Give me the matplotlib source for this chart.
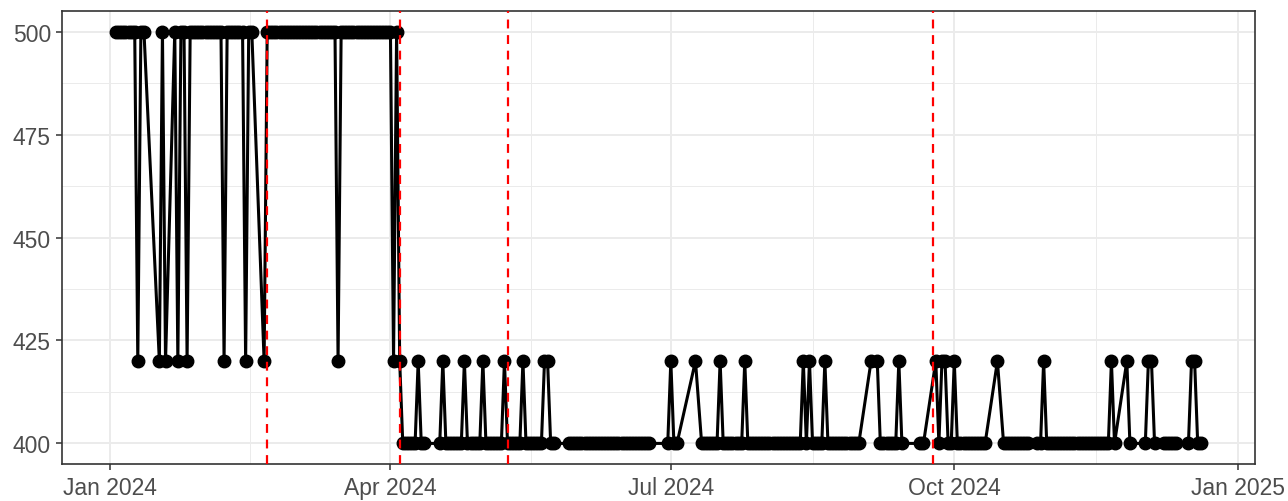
import matplotlib
matplotlib.use('Agg')
import matplotlib.pyplot as plt
import matplotlib.dates as mdates
from matplotlib.ticker import FixedLocator
import numpy as np
import pandas as pd

# day offset from 1 Jan 2024 for each reading, grouped by the reading's value
days_500 = [2, 3, 4, 5, 6, 7, 8, 10, 11, 17, 21, 23, 24, 26, 27, 28, 29, 30, 31,
            32, 33, 34, 35, 36, 38, 39, 40, 41, 42, 43, 45, 46, 51, 52, 53, 54, 55,
            56, 57, 58, 59, 60, 61, 62, 63, 64, 65, 66, 67, 68, 69, 70, 71, 72, 73,
            75, 76, 77, 78, 79, 80, 81, 82, 83, 84, 85, 86, 87, 88, 89, 90, 91, 93]
days_420 = [9, 16, 18, 22, 25, 37, 44, 50, 74, 92, 94, 100, 108, 115, 121, 128,
            134, 141, 142, 182, 190, 198, 206, 225, 227, 232, 247, 249, 256, 268,
            270, 271, 274, 288, 303, 325, 330, 337, 338, 351, 352]
days_400 = [95, 96, 97, 98, 99, 101, 102, 107, 109, 110, 111, 112, 113, 114, 116,
            117, 118, 119, 120, 122, 123, 124, 125, 126, 127, 129, 130, 131, 132,
            133, 135, 136, 137, 138, 139, 140, 143, 144, 149, 150, 151, 152, 153,
            154, 155, 156, 157, 158, 159, 160, 161, 162, 163, 164, 165, 166, 167,
            168, 169, 170, 171, 172, 173, 174, 175, 181, 183, 184, 192, 193, 194,
            195, 196, 197, 199, 200, 201, 202, 203, 204, 205, 207, 208, 209, 210,
            211, 212, 213, 214, 215, 216, 217, 218, 219, 220, 221, 222, 223, 224,
            226, 228, 229, 230, 231, 233, 234, 235, 236, 237, 238, 239, 240, 241,
            242, 243, 250, 251, 252, 253, 254, 255, 257, 263, 264, 269, 272, 273,
            275, 276, 277, 278, 279, 280, 281, 282, 283, 284, 290, 291, 292, 293,
            294, 295, 296, 297, 298, 301, 302, 304, 305, 306, 307, 308, 309, 310,
            311, 312, 313, 314, 315, 316, 317, 318, 319, 320, 321, 322, 323, 324,
            326, 331, 336, 339, 342, 343, 344, 345, 346, 350, 353, 354]

cutoffs = ['2024-02-21', '2024-04-04', '2024-05-09', '2024-09-24']
x_breaks = ['2024-01-01', '2024-04-01', '2024-07-01', '2024-10-01', '2025-01-01']
x_labels = ['Jan 2024', 'Apr 2024', 'Jul 2024', 'Oct 2024', 'Jan 2025']
y_breaks = [400, 425, 450, 475, 500]

df = pd.concat([
    pd.DataFrame({'day': days_500, 'value': 500}),
    pd.DataFrame({'day': days_420, 'value': 420}),
    pd.DataFrame({'day': days_400, 'value': 400}),
]).sort_values('day')
df['date'] = pd.Timestamp('2024-01-01') + pd.to_timedelta(df['day'], unit='D')

plt.rcParams['font.family'] = ['Liberation Sans', 'DejaVu Sans']

fig = plt.figure(figsize=(12.88, 5.02), dpi=100)
ax = fig.add_axes([62 / 1288, 1 - 465 / 502, (1255 - 62) / 1288, (465 - 12) / 502])

ax.plot(df['date'], df['value'], color='black', linewidth=2.2, zorder=3,
        marker='o', markersize=9, solid_joinstyle='round')
for c in cutoffs:
    ax.axvline(pd.Timestamp(c), color='red', linestyle=(0, (4, 3)), linewidth=1.6, zorder=4)

# ggplot-style 5% expansion
xn = mdates.date2num(df['date'])
xr = xn.max() - xn.min()
ax.set_xlim(xn.min() - 0.05 * xr, xn.max() + 0.05 * xr)
ax.set_ylim(395, 505)

xb = mdates.date2num(pd.to_datetime(x_breaks))
ax.xaxis.set_major_locator(FixedLocator(xb))
ax.xaxis.set_minor_locator(FixedLocator((xb[:-1] + xb[1:]) / 2))
ax.set_xticklabels(x_labels)
ax.yaxis.set_major_locator(FixedLocator(y_breaks))
ax.yaxis.set_minor_locator(FixedLocator([412.5, 437.5, 462.5, 487.5]))
ax.set_yticklabels([str(v) for v in y_breaks])

ax.grid(which='major', color='#EBEBEB', linewidth=1.4, zorder=0)
ax.grid(which='minor', color='#EBEBEB', linewidth=0.7, zorder=0)
ax.set_axisbelow(True)
ax.tick_params(which='major', length=4, width=1.1, color='#333333',
               labelsize=16.5, labelcolor='#4D4D4D')
ax.tick_params(axis='x', which='major', pad=5)
ax.tick_params(axis='y', which='major', pad=4)
ax.tick_params(which='minor', length=0)
for s in ax.spines.values():
    s.set_color('#333333')
    s.set_linewidth(1.2)

fig.savefig('out.png', dpi=100, facecolor='white')
